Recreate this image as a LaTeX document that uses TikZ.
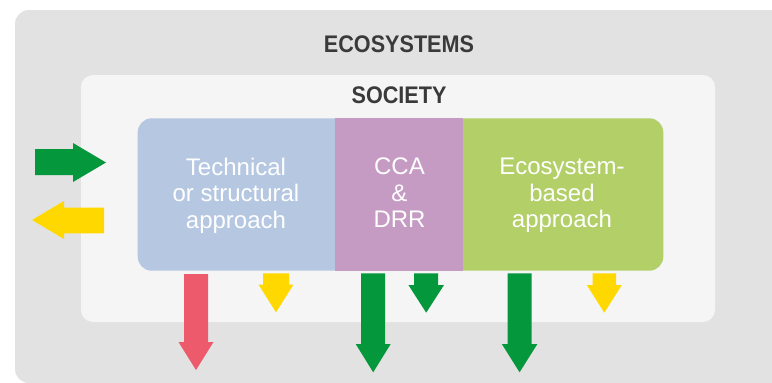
\documentclass[tikz,border=0pt]{standalone}
\usepackage{fontspec}
\setmainfont{Liberation Sans}
\definecolor{outerbg}{HTML}{E2E2E2}
\definecolor{innerbg}{HTML}{F5F5F5}
\definecolor{techblue}{HTML}{B5C7E1}
\definecolor{ccapurple}{HTML}{C59AC3}
\definecolor{ecogreen}{HTML}{B3CF68}
\definecolor{arrgreen}{HTML}{05973C}
\definecolor{arryellow}{HTML}{FFD800}
\definecolor{arrred}{HTML}{EC5A6C}
\definecolor{titlegray}{HTML}{3A3A3A}
\newcommand\dnarrow[7]{%
  \fill[#1] ({#2-#3},#5) -- ({#2+#3},#5) -- ({#2+#3},#6) -- ({#2+#4},#6)
    -- (#2,#7) -- ({#2-#4},#6) -- ({#2-#3},#6) -- cycle;}
\begin{document}
\begin{tikzpicture}[x=1pt,y=-1pt,
  title/.style={text=titlegray,inner sep=0pt,anchor=base,
    font=\fontsize{24}{28}\selectfont\bfseries},
  boxtext/.style={text=white,inner sep=0pt,align=center,
    font=\fontsize{24}{26.5}\selectfont}]
\useasboundingbox (0,0) rectangle (772,383);
\clip (0,0) rectangle (772,383);
\fill[white] (0,0) rectangle (772,383);
% ecosystems panel
\fill[outerbg,rounded corners=14] (15,10) rectangle (800,383);
% society panel
\fill[innerbg,rounded corners=12] (81,75) rectangle (715,322);
% approach boxes
\fill[techblue,rounded corners=14] (137.7,118.3) rectangle (360,270.7);
\fill[ecogreen,rounded corners=14] (440,118.3) rectangle (663.3,270.7);
\fill[ccapurple] (335,118.3) rectangle (462.7,270.7);
% titles
\node[title] (eco) at (399,52.3) {\scalebox{0.9}[1]{ECOSYSTEMS}};
\node[title] (soc) at (399,103.3) {\scalebox{0.9}[1]{SOCIETY}};
% box texts
\node[boxtext] (tech) at (236,195.3) {Technical\\or structural\\approach};
\node[boxtext] (cca) at (399.5,192.9) {CCA\\\&\\DRR};
\node[boxtext] (ebased) at (562,195.3) {Ecosystem-\\based\\approach};
% side arrows
\fill[arrgreen] (35,149) -- (73,149) -- (73,143) -- (106,162.5) -- (73,182)
  -- (73,175) -- (35,175) -- cycle;
\fill[arryellow] (104,207.7) -- (64,207.7) -- (64,201) -- (32,220) -- (64,239)
  -- (64,233.3) -- (104,233.3) -- cycle;
% downward arrows
\dnarrow{arrred}{196}{12}{17.5}{274}{342}{370}
\dnarrow{arryellow}{276}{13}{17.5}{273.3}{284.5}{312.3}
\dnarrow{arrgreen}{373.2}{12}{17.5}{273.3}{344}{372.3}
\dnarrow{arrgreen}{426.2}{12}{17.8}{273.3}{285}{312.7}
\dnarrow{arrgreen}{519.6}{12}{17.8}{273.3}{344}{372.3}
\dnarrow{arryellow}{604.3}{11.7}{17.5}{273.3}{285}{312.7}
\end{tikzpicture}
\end{document}
